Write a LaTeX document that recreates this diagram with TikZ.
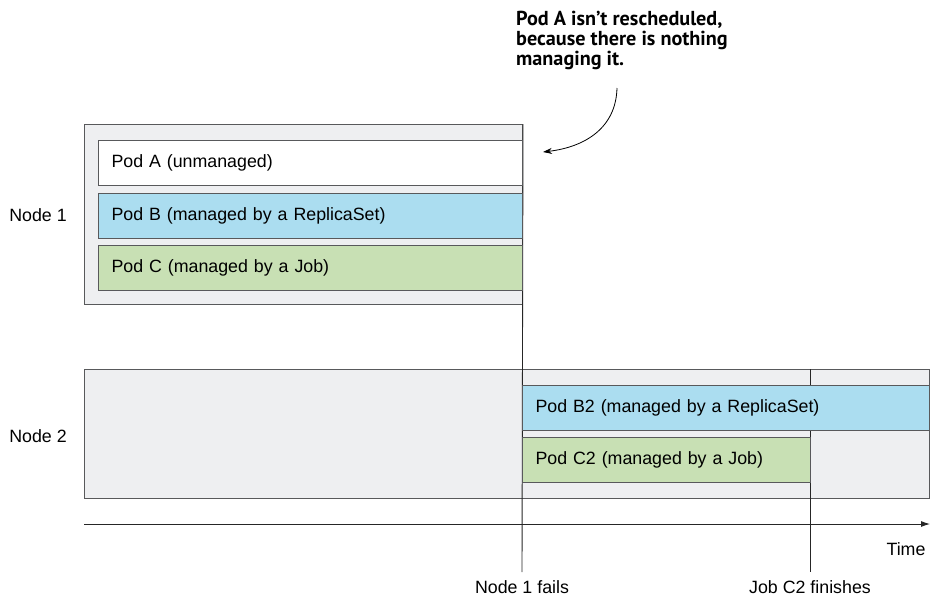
\documentclass[tikz,border=0pt]{standalone}
\usepackage{fontspec}
\setmainfont{Liberation Sans}
\newfontfamily\calloutfont{PT Sans}
\usetikzlibrary{arrows.meta}

\definecolor{boxgray}{HTML}{EEEFF1}
\definecolor{linegray}{HTML}{58595B}
\definecolor{podblue}{HTML}{ABDDF0}
\definecolor{podgreen}{HTML}{C8E0B4}

\tikzset{
  nodebox/.style={draw=linegray, fill=boxgray, line width=1pt, anchor=north west, inner sep=0pt},
  pod/.style={draw=linegray, line width=1pt, anchor=north west, minimum height=45pt,
    inner xsep=13pt, inner ysep=0pt, align=left},
  marker/.style={draw=black!85, line width=0.9pt},
}

\begin{document}
\begin{tikzpicture}[x=1pt, y=-1pt, font=\fontsize{17.8}{20}\selectfont]
    \useasboundingbox (0,0) rectangle (930,598);

    % Rahmen der beiden Knoten
    \node[nodebox, minimum width=438pt, minimum height=180pt] (node1) at (84,124) {};
    \node[nodebox, minimum width=845pt, minimum height=129pt] (node2) at (84,369) {};
    \node (n1label) at (38,215) {Node 1};
    \node (n2label) at (38,436) {Node 2};

    % Zeitpunkte
    \coordinate (fail) at (522,572);
    \coordinate (done) at (810,572);
    \draw[marker] (node1.north east) -- (fail);
    \draw[marker] (done |- node2.north) -- (done);
    \node[anchor=north] (faillabel) at (fail |- 0,577) {Node 1 fails};
    \node[anchor=north] (donelabel) at (done |- 0,577) {Job C2 finishes};

    % Pods auf Node 1
    \node[pod, fill=white, text width=398pt] (podA) at (98,140) {Pod A (unmanaged)};
    \node[pod, fill=podblue, text width=398pt] (podB) at (98,193) {Pod B (managed by a ReplicaSet)};
    \node[pod, fill=podgreen, text width=398pt] (podC) at (98,245) {Pod C (managed by a Job)};

    % Pods auf Node 2
    \node[pod, fill=podblue, text width=381pt] (podB2) at (522,385) {Pod B2 (managed by a ReplicaSet)};
    \node[pod, fill=podgreen, text width=262pt] (podC2) at (522,437) {Pod C2 (managed by a Job)};

    % Zeitachse
    \coordinate (tstart) at (84,524);
    \coordinate (tend) at (930,524);
    \draw[marker, -{Latex[length=9pt,width=6pt]}] (tstart) -- (tend);
    \node[anchor=east] (timelabel) at (929,549) {Time};

    % Hinweis
    \node[anchor=north west, inner sep=0pt, align=left,
          font=\calloutfont\bfseries\fontsize{20.2}{20}\selectfont] (callout) at (516,11)
        {Pod A isn’t rescheduled,\\because there is nothing\\managing it.};
    \coordinate (calloutfoot) at (617,88);
    \coordinate (podAtip) at (543,152);
    \draw[line width=0.8pt, -{Stealth[length=9pt,width=6pt]}] (calloutfoot)
        .. controls (616,128) and (585,147) .. (podAtip);
\end{tikzpicture}
\end{document}
